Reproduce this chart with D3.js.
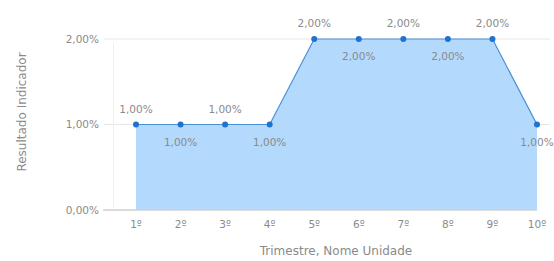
<!DOCTYPE html>
<html>
<head>
<meta charset="utf-8">
<script src="https://cdn.jsdelivr.net/npm/d3@7"></script>
<style>
  body { margin: 0; background: #fff; }
  text { font-family: "DejaVu Sans", sans-serif; fill: #8a8a8a; }
</style>
</head>
<body>
<div id="chart"></div>
<script>
const quarters = ['1º', '2º', '3º', '4º', '5º', '6º', '7º', '8º', '9º', '10º'];
const results = [1, 1, 1, 1, 2, 2, 2, 2, 2, 1];
const yTicks = [0, 1, 2];

const width = 554;
const height = 261;
const margin = {top: 39, right: 17, bottom: 52, left: 136};

const svg = d3.select('#chart').append('svg')
    .attr('width', width)
    .attr('height', height);

const x = d3.scalePoint()
    .domain(quarters)
    .range([margin.left, width - margin.right]);

const y = d3.scaleLinear()
    .domain([0, 2])
    .range([height - margin.bottom + 1, margin.top]);

const fmt = (v) => v.toFixed(2).replace('.', ',') + '%';

// grid lines
svg.append('g')
    .selectAll('line')
    .data(yTicks.filter((d) => d > 0))
    .enter()
    .append('line')
    .attr('x1', 104)
    .attr('x2', width - 4)
    .attr('y1', (d) => y(d))
    .attr('y2', (d) => y(d))
    .attr('stroke', '#e6e6e6')
    .attr('stroke-width', 1);

// light vertical line
svg.append('line')
    .attr('x1', 113.5).attr('x2', 113.5)
    .attr('y1', y(2) + 4).attr('y2', y(0) - 2)
    .attr('stroke', '#efefef');

// area
const area = d3.area()
    .x((d, i) => x(quarters[i]))
    .y0(y(0))
    .y1((d) => y(d));

svg.append('path')
    .datum(results)
    .attr('d', area)
    .attr('fill', '#b3d9fd');

// baseline
svg.append('line')
    .attr('x1', 103).attr('x2', x(quarters[quarters.length - 1]))
    .attr('y1', y(0)).attr('y2', y(0))
    .attr('stroke', '#cfcfcf')
    .attr('stroke-width', 1.5);

const line = d3.line()
    .x((d, i) => x(quarters[i]))
    .y((d) => y(d));

svg.append('path')
    .datum(results)
    .attr('d', line)
    .attr('fill', 'none')
    .attr('stroke', '#4a90d6')
    .attr('stroke-width', 1.2);

svg.append('g')
    .selectAll('circle')
    .data(results)
    .enter()
    .append('circle')
    .attr('cx', (d, i) => x(quarters[i]))
    .attr('cy', (d) => y(d))
    .attr('r', 3)
    .attr('fill', '#1f72d0');

// data labels, alternating above/below
svg.append('g')
    .selectAll('text')
    .data(results)
    .enter()
    .append('text')
    .attr('x', (d, i) => x(quarters[i]))
    .attr('y', (d, i) => y(d) + (i % 2 === 0 ? -12 : 21))
    .attr('text-anchor', 'middle')
    .attr('font-size', 10.5)
    .text((d) => fmt(d));

// y tick labels
svg.append('g')
    .selectAll('text')
    .data(yTicks)
    .enter()
    .append('text')
    .attr('x', 99)
    .attr('y', (d) => y(d) + 3.5)
    .attr('text-anchor', 'end')
    .attr('font-size', 10.5)
    .text((d) => fmt(d));

// x tick labels
svg.append('g')
    .selectAll('text')
    .data(quarters)
    .enter()
    .append('text')
    .attr('x', (d) => x(d))
    .attr('y', 228)
    .attr('text-anchor', 'middle')
    .attr('font-size', 10.5)
    .text((d) => d);

// axis titles
svg.append('text')
    .attr('x', 336)
    .attr('y', 255)
    .attr('text-anchor', 'middle')
    .attr('font-size', 12)
    .text('Trimestre, Nome Unidade');

svg.append('text')
    .attr('transform', 'translate(26,112) rotate(-90)')
    .attr('text-anchor', 'middle')
    .attr('font-size', 12)
    .text('Resultado Indicador');
</script>
</body>
</html>
